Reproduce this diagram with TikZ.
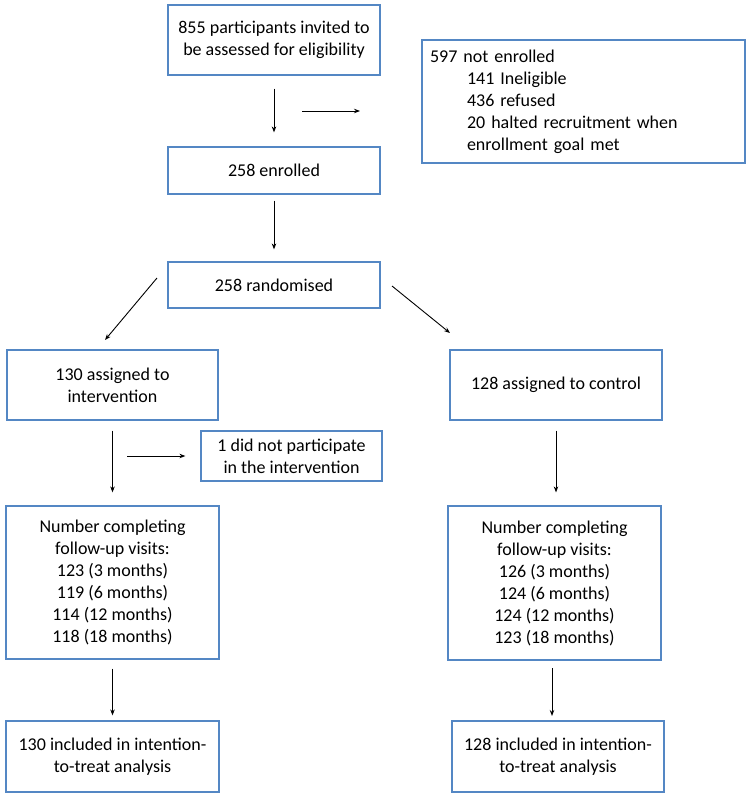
\documentclass[tikz,border=0pt]{standalone}
\usepackage{fontspec}
\setmainfont{Carlito}
\usetikzlibrary{arrows.meta}
\definecolor{boxblue}{RGB}{84,135,196}
\tikzset{
  fbox/.style={draw=boxblue, line width=1.2pt, inner sep=0pt, align=center,
    font=\fontsize{18}{22}\selectfont, text=black},
  arr/.style={-{Stealth[length=6pt,width=4.5pt]}, line width=0.9pt, black}
}
\begin{document}
\begin{tikzpicture}[x=1pt,y=-1pt]
\useasboundingbox[fill=white] (0,0) rectangle (751,797);
\node[fbox, minimum width=212pt, minimum height=70pt] (b1) at (274,40)
  {855 participants invited to\\be assessed for eligibility};
\node[fbox, minimum width=212pt, minimum height=47pt] (enr) at (274,170.5)
  {258 enrolled};
\node[fbox, minimum width=323pt, minimum height=123pt, align=left, text width=307pt] (ne) at (583.5,101.5)
  {597 not enrolled\\
   \hspace*{37pt}141 Ineligible\\
   \hspace*{37pt}436 refused\\
   \hspace*{37pt}20 halted recruitment when\\
   \hspace*{37pt}enrollment goal met};
\node[fbox, minimum width=212pt, minimum height=46pt] (rand) at (274,285)
  {258 randomised};
\node[fbox, minimum width=211pt, minimum height=70pt] (int) at (112.5,385)
  {130 assigned to\\intervention};
\node[fbox, minimum width=212pt, minimum height=70pt] (ctl) at (556,385)
  {128 assigned to control};
\node[fbox, minimum width=181pt, minimum height=50pt] (dnp) at (291.5,456)
  {1 did not participate\\in the intervention};
\node[fbox, minimum width=213pt, minimum height=153pt] (fuL) at (112.5,582.5)
  {Number completing\\follow-up visits:\\123 (3 months)\\119 (6 months)\\114 (12 months)\\118 (18 months)};
\node[fbox, minimum width=213pt, minimum height=154pt] (fuR) at (554.5,583)
  {Number completing\\follow-up visits:\\126 (3 months)\\124 (6 months)\\124 (12 months)\\123 (18 months)};
\node[fbox, minimum width=213pt, minimum height=71pt] (ittL) at (112.5,756.5)
  {130 included in intention-\\to-treat analysis};
\node[fbox, minimum width=212pt, minimum height=71pt] (ittR) at (558,756.5)
  {128 included in intention-\\to-treat analysis};
% free arrow ends
\coordinate (h1) at (302,111);
\coordinate (h1e) at (360,111);
\coordinate (dl1) at (157,278);
\coordinate (dl2) at (105,340);
\coordinate (dr1) at (392,286);
\coordinate (dr2) at (450,333);
\coordinate (h2) at (127,456);
\coordinate (fr1) at (552,668);
\coordinate (fr2) at (552,716);
% connectors
\draw[arr, shorten <=13pt, shorten >=14pt] (b1.south) -- (enr.north);
\draw[arr] (h1) -- (h1e);
\draw[arr, shorten <=6pt, shorten >=12pt] (enr.south) -- (rand.north);
\draw[arr] (dl1) -- (dl2);
\draw[arr] (dr1) -- (dr2);
\draw[arr, shorten <=10pt, shorten >=13pt] (int.south) -- (int.south |- fuL.north);
\draw[arr, shorten >=15pt] (h2) -- (h2 -| dnp.west);
\draw[arr, shorten <=10pt, shorten >=13pt] (ctl.south) -- (ctl.south |- fuR.north);
\draw[arr, shorten <=9pt, shorten >=5pt] (fuL.south) -- (fuL.south |- ittL.north);
\draw[arr] (fr1) -- (fr2);
\end{tikzpicture}
\end{document}
